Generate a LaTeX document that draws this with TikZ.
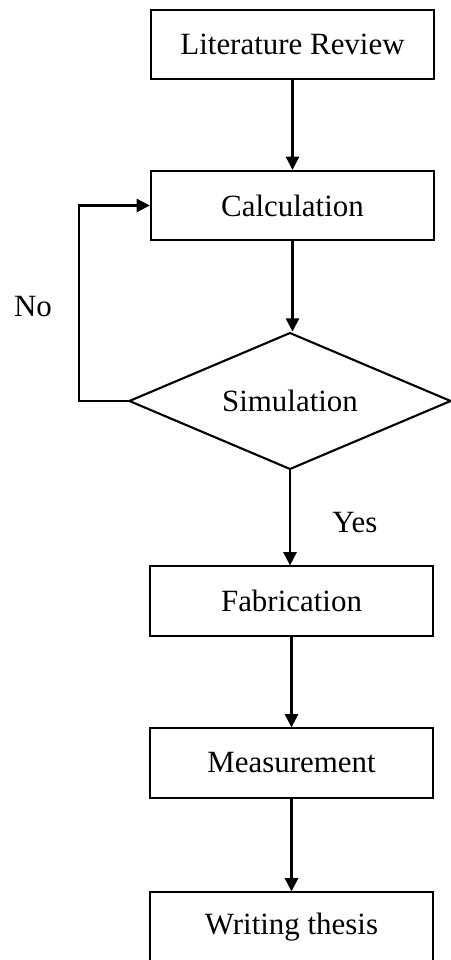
\documentclass[tikz,border=0pt]{standalone}
\usepackage{fontspec}
\setmainfont{Liberation Serif}
\usetikzlibrary{arrows.meta, positioning, shapes.geometric}

\begin{document}
\begin{tikzpicture}[
    x=0.025cm, y=-0.025cm,
    block/.style={
        rectangle, draw=black, line width=1.5pt,
        minimum width=7.08cm, minimum height=1.73cm,
        align=center, font=\fontsize{22}{26}\selectfont,
    },
    decision/.style={
        diamond, draw=black, line width=1.5pt, inner sep=0pt, aspect=2.35,
        minimum width=8.05cm, minimum height=3.42cm,
        font=\fontsize{22}{26}\selectfont,
    },
    arrow/.style={-{Triangle[length=0.33cm, width=0.33cm]}, line width=1.5pt},
    lbl/.style={font=\fontsize{22}{26}\selectfont},
]
\useasboundingbox (0, 0) rectangle (451, 960);

% MAIN FLOW
\node[block] (lit) at (292.5, 44.5) {Literature Review};
\node[block] (calc) at (292.5, 205.5) {Calculation};
\node[decision] (sim) at (290, 401) {Simulation};
\node[block] (fab) at (291.5, 601) {Fabrication};
\node[block] (meas) at (291.5, 763) {Measurement};
\node[block] (write) at (291.5, 927) {Writing thesis};

\draw[arrow] (lit) -- (calc);
\draw[arrow] (calc.south) -- (calc.south |- sim.north);
\draw[arrow] (sim.south) -- (sim.south |- fab.north);
\draw[arrow] (fab) -- (meas);
\draw[arrow] (meas) -- (write);

% FEEDBACK LOOP
\coordinate (loop) at (79, 401);
\draw[arrow] (sim.west) -- (loop) |- (calc.west);

% LABELS
\node[lbl] (no) at (33, 307) {No};
\node[lbl] (yes) at (355, 523) {Yes};

\end{tikzpicture}
\end{document}
